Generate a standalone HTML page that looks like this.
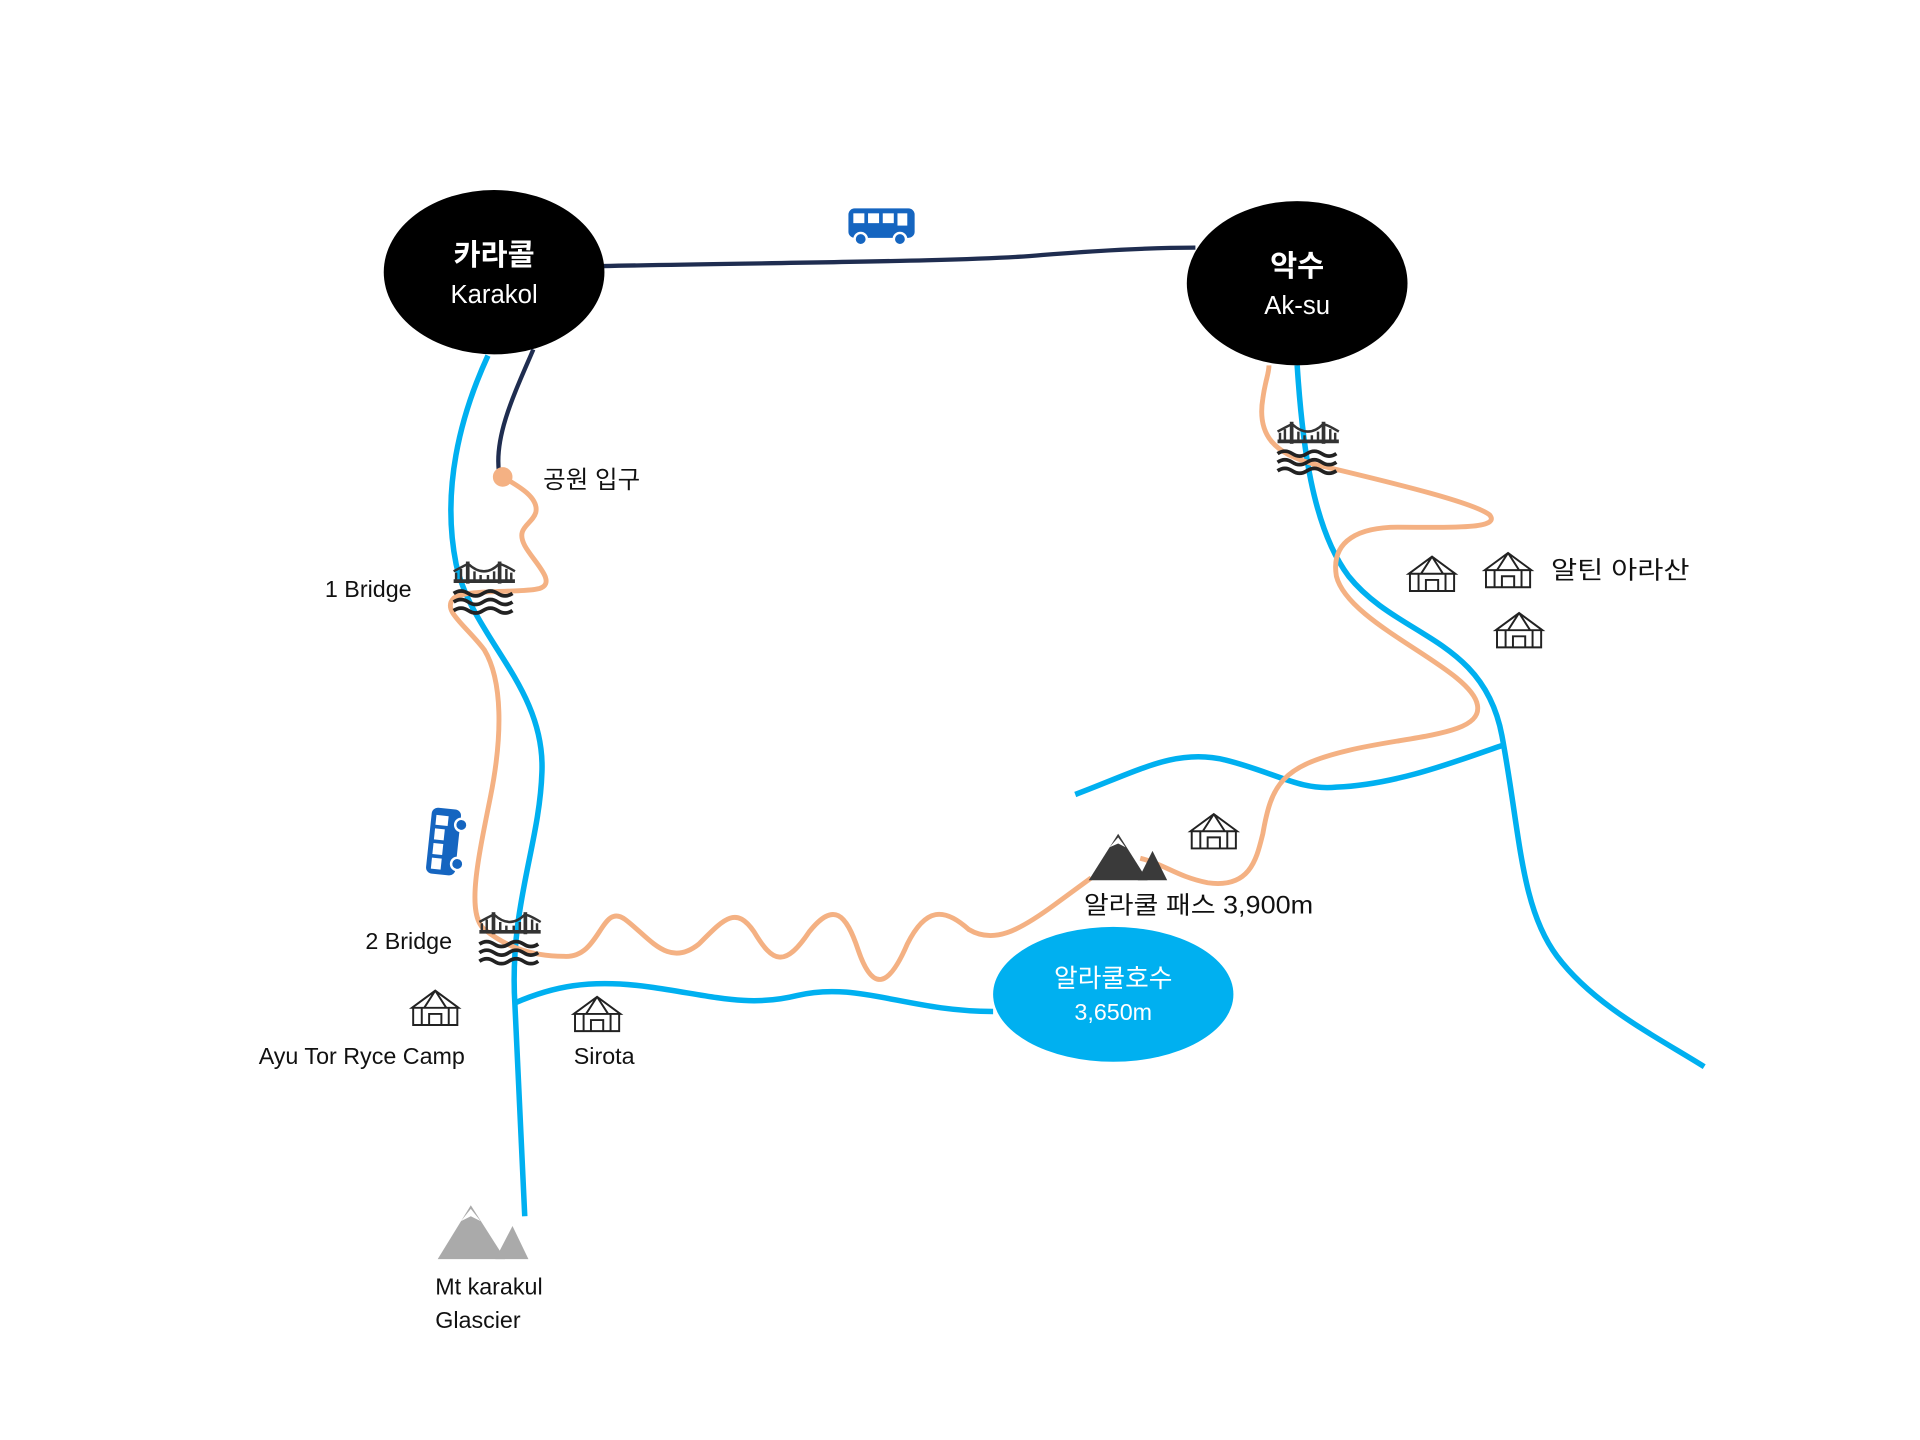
<!DOCTYPE html>
<html><head><meta charset="utf-8"><style>
html,body{margin:0;padding:0;background:#fff;}
svg{display:block;}
text{font-family:"Liberation Sans","Noto Sans CJK KR",sans-serif;}
</style></head><body>
<svg width="1920" height="1440" viewBox="0 0 1566 1174.5" xmlns="http://www.w3.org/2000/svg">
<defs>
<g id="bridge">
 <path d="M0 16 H50" stroke="#333" stroke-width="3"/>
 <rect x="10" y="0" width="3" height="18" fill="#333"/><rect x="36" y="0" width="3" height="18" fill="#333"/>
 <path d="M0 8 Q11 2 12 2 Q25 14 37 2 Q40 2 50 8" fill="none" stroke="#333" stroke-width="2"/>
 <path d="M2 16 V9 M6 16 V6 M17 16 V8 M22 16 V11 M28 16 V11 M33 16 V8 M43 16 V6 M47 16 V9" stroke="#333" stroke-width="2"/>
 <path d="M0 26 q6 -4 12 0 t12 0 t12 0 t12 0 M0 33 q6 -4 12 0 t12 0 t12 0 t12 0 M0 40 q6 -4 12 0 t12 0 t12 0 t12 0" fill="none" stroke="#222" stroke-width="3"/>
</g>
<g id="yurt">
 <path d="M2 14 L21 0 L40 14 Z M3 14 H39 V28 H3 Z M16 28 V19 H26 V28 M21 0 L12 14 M21 0 L30 14 M10 14 V28 M32 14 V28" fill="none" stroke="#222" stroke-width="1.6"/>
</g>
<g id="bus">
 <rect x="0" y="0" width="54" height="24" rx="5" fill="#1565c0"/>
 <rect x="4" y="4" width="9" height="8" fill="#fff"/><rect x="16" y="4" width="9" height="8" fill="#fff"/><rect x="28" y="4" width="9" height="8" fill="#fff"/><rect x="40" y="4" width="8" height="10" fill="#fff"/>
 <circle cx="10" cy="25" r="5" fill="#1565c0" stroke="#fff" stroke-width="2"/><circle cx="42" cy="25" r="5" fill="#1565c0" stroke="#fff" stroke-width="2"/>
</g>
</defs>

<g fill="none" stroke="#00b0f0" stroke-width="4.5">
 <path d="M398 290 C375 340 360 400 372 460 C385 520 445 560 442 630 C440 690 415 740 420 820 L428 992"/>
 <path d="M1058 298 C1062 360 1070 430 1100 470 C1140 520 1210 520 1225 600 C1240 680 1240 740 1270 780 C1300 820 1350 845 1390 870"/>
 <path d="M877 648 C930 628 960 610 1000 620 C1040 630 1060 645 1090 642 C1140 640 1190 620 1228 607"/>
 <path d="M420 818 C450 805 480 798 530 805 C580 812 610 822 650 812 C700 800 740 825 810 825"/>
</g>
<g fill="none" stroke="#1f2d50" stroke-width="3.5">
 <path d="M492 217 C650 214 800 213 850 208 C900 204 940 202 975 202"/>
 <path d="M435 285 C420 320 403 355 407 385"/>
</g>
<g fill="none" stroke="#f4b183" stroke-width="4">
 <path d="M410 389 C420 395 440 405 437 418 C434 428 420 430 428 445 C435 458 455 475 440 480 C425 484 380 480 370 488 C360 498 380 510 395 530 C410 555 410 600 400 650 C390 700 380 745 395 758 C410 770 430 780 460 780 C490 782 490 735 510 750 C530 765 545 790 570 770 C590 750 600 738 615 760 C630 785 640 790 660 760 C680 735 690 745 700 775 C712 810 725 805 740 770 C755 740 770 740 790 758 C810 770 830 760 860 738 L890 716"/>
 <path d="M930 700 C950 705 960 715 985 720 C1020 725 1025 700 1030 680 C1037 640 1045 625 1100 612 C1150 600 1210 600 1205 575 C1200 545 1100 510 1090 470 C1085 440 1110 430 1140 430 C1180 430 1225 432 1215 420 C1200 408 1110 388 1070 378 C1040 370 1025 355 1030 325 C1032 310 1035 305 1035 298"/>
</g>
<circle cx="410" cy="389" r="8" fill="#f4b183"/>

<ellipse cx="403" cy="222" rx="90" ry="67" fill="#000"/>
<text x="403" y="216" fill="#fff" font-size="24" font-weight="bold" text-anchor="middle">카라콜</text>
<text x="403" y="247" fill="#fff" font-size="21" text-anchor="middle">Karakol</text>
<ellipse cx="1058" cy="231" rx="90" ry="67" fill="#000"/>
<text x="1058" y="225" fill="#fff" font-size="24" font-weight="bold" text-anchor="middle">악수</text>
<text x="1058" y="256" fill="#fff" font-size="21" text-anchor="middle">Ak-su</text>

<ellipse cx="908" cy="811" rx="98" ry="55" fill="#00b0f0"/>
<text x="908" y="805" fill="#fff" font-size="21" text-anchor="middle">알라쿨호수</text>
<text x="908" y="832" fill="#fff" font-size="19" text-anchor="middle">3,650m</text>

<use href="#bus" x="692" y="170"/>
<use href="#bus" transform="translate(347,712) rotate(-84)"/>
<use href="#bridge" x="370" y="458"/>
<use href="#bridge" x="391" y="744"/>
<use href="#bridge" x="1042" y="344"/>
<use href="#yurt" x="334" y="808"/>
<use href="#yurt" x="466" y="813"/>
<use href="#yurt" x="969" y="664"/>
<use href="#yurt" x="1147" y="454"/>
<use href="#yurt" x="1209" y="451"/>
<use href="#yurt" x="1218" y="500"/>
<path d="M888 718 L912 680 L936 718 Z" fill="#3a3a3a"/><path d="M928 718 L940 694 L952 718 Z" fill="#3a3a3a"/>
<path d="M905 691 L912 683 L918 691 L912 688 Z" fill="#fff"/>
<path d="M357 1027 L384 983 L412 1027 Z" fill="#aaa"/><path d="M404 1027 L418 1000 L431 1027 Z" fill="#aaa"/>
<path d="M376 996 L384 986 L392 996 L384 992 Z" fill="#fff"/>

<g font-size="19" fill="#111">
<text x="443" y="398" font-size="20">공원 입구</text>
<text x="265" y="487">1 Bridge</text>
<text x="298" y="774">2 Bridge</text>
<text x="211" y="868">Ayu Tor Ryce Camp</text>
<text x="468" y="868">Sirota</text>
<text x="884" y="745" font-size="20" textLength="187" lengthAdjust="spacingAndGlyphs">알라쿨 패스 3,900m</text>
<text x="1265" y="472" font-size="20" textLength="113" lengthAdjust="spacingAndGlyphs">알틴 아라산</text>
<text x="355" y="1056">Mt karakul</text>
<text x="355" y="1083">Glascier</text>
</g>
</svg>
</body></html>
